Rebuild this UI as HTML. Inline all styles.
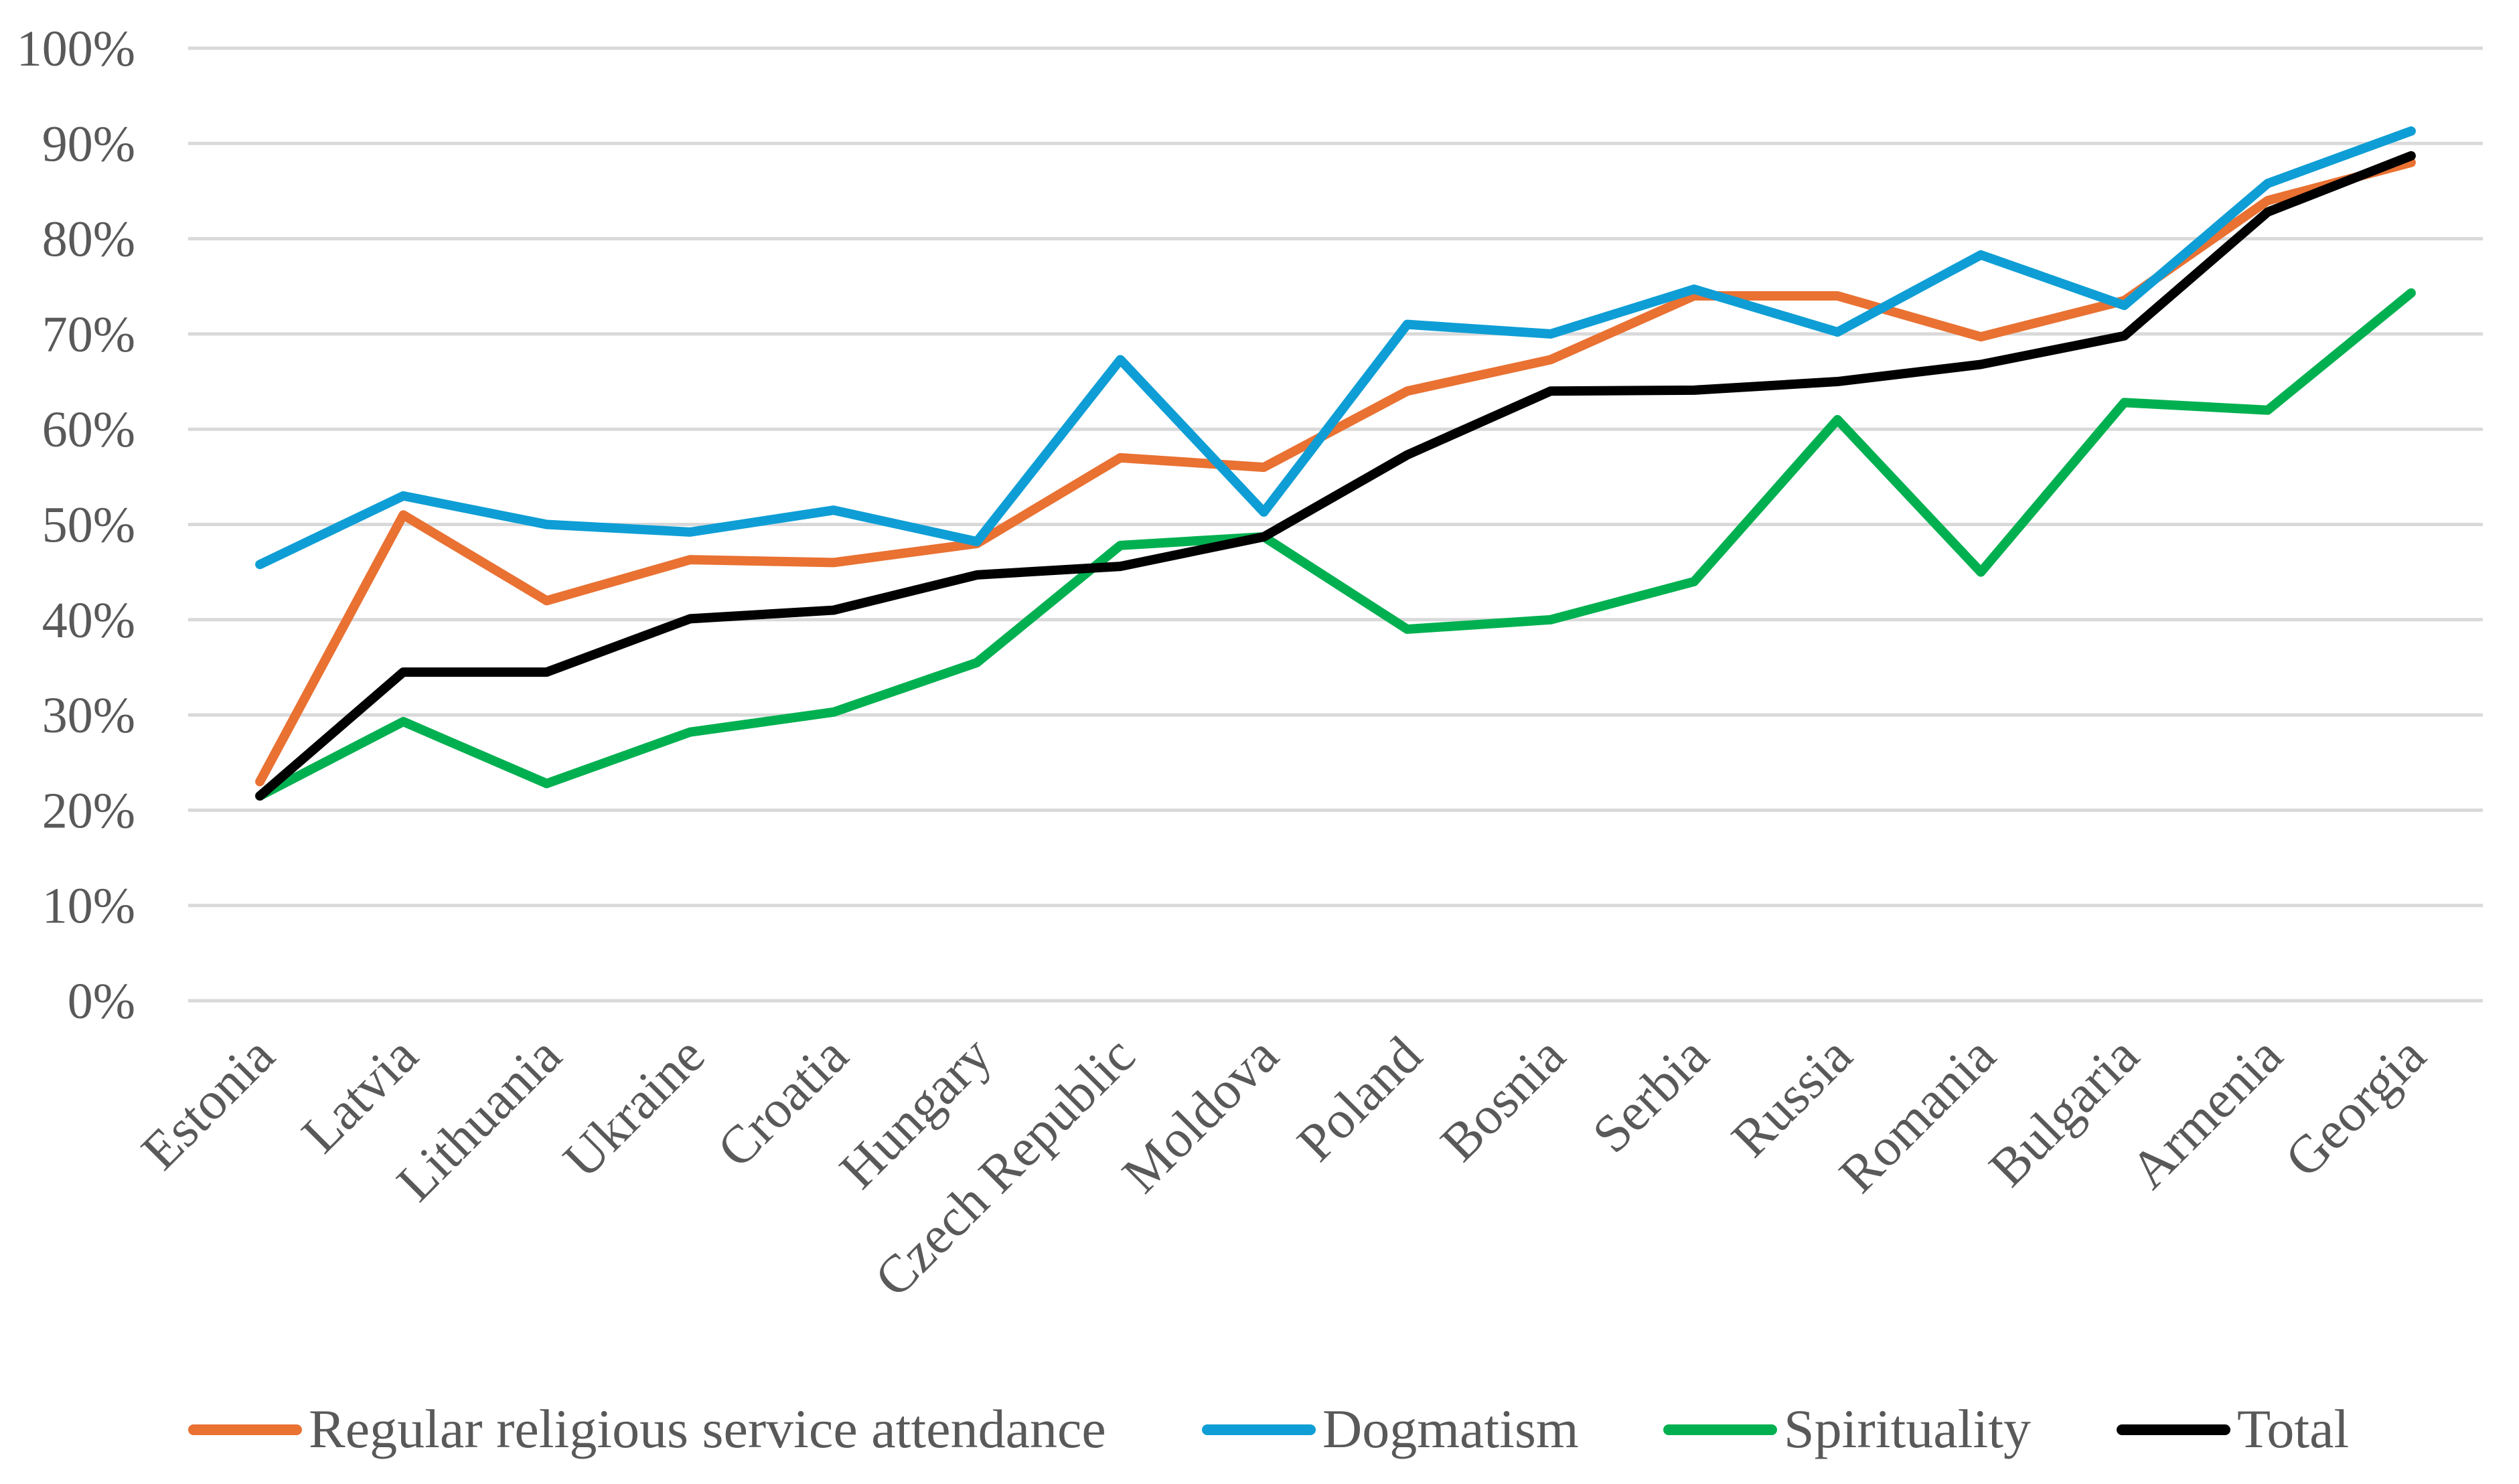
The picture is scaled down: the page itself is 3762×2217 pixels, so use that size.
<!DOCTYPE html>
<html><head><meta charset="utf-8"><style>
html,body{margin:0;padding:0;background:#fff}
svg{display:block}
text{font-family:"Liberation Serif",serif;fill:#595959}
</style></head><body>
<svg id="chart" width="3762" height="2217" viewBox="0 0 3762 2217" xmlns="http://www.w3.org/2000/svg">
<g id="grid"></g>
<g id="yaxis"></g>
<g id="xaxis"></g>
<g id="series"></g>
<g id="legend"></g>
</svg>
<script>
const categories=["Estonia","Latvia","Lithuania","Ukraine","Croatia","Hungary","Czech Republic","Moldova","Poland","Bosnia","Serbia","Russia","Romania","Bulgaria","Armenia","Georgia"];
const attendance=[23,51,42,46.3,46,48,57,56,64,67.3,74,74,69.7,73.5,84,88];
const dogmatism=[45.8,53,50,49.2,51.5,48.2,67.3,51.3,71,70,74.7,70.2,78.3,73,85.8,91.3];
const spirituality=[21.5,29.3,22.8,28.2,30.3,35.5,47.8,48.7,39,40,44,61,45,62.8,62,74.3];
const total=[21.5,34.5,34.5,40.1,41,44.7,45.6,48.7,57.3,64,64.1,65,66.8,69.8,82.8,88.7];
const yTicks=[0,10,20,30,40,50,60,70,80,90,100];
const seriesNames=["Regular religious service attendance","Dogmatism","Spirituality","Total"];

const NS="http://www.w3.org/2000/svg";
const X0=281,X1=3708,Y0=1495,Y100=72;
const band=(X1-X0)/categories.length;
const xs=i=>X0+band*(i+0.5);
const ys=v=>Y0-(Y0-Y100)*v/100;
function mk(tag,attrs,parent){const e=document.createElementNS(NS,tag);for(const k in attrs)e.setAttribute(k,attrs[k]);parent.appendChild(e);return e;}
const grid=document.getElementById('grid'),yaxis=document.getElementById('yaxis'),xaxis=document.getElementById('xaxis'),ser=document.getElementById('series'),leg=document.getElementById('legend');
yTicks.forEach(t=>{
  const l=mk('line',{x1:X0,x2:X1,y1:ys(t),y2:ys(t),stroke:'#d9d9d9','stroke-width':5},grid);
  
  
  const tx=mk('text',{x:202,y:ys(t)+26,'text-anchor':'end','font-size':76},yaxis);
  tx.textContent=t+'%';
  
  
});
categories.forEach((c,i)=>{
  const x=xs(i)+26,y=1582;
  const tx=mk('text',{x:x,y:y,'text-anchor':'end','font-size':80,transform:`rotate(-45 ${x} ${y})`},xaxis);
  tx.textContent=c;
  
  
});
const colors=["#e97132","#0e9ed5","#00b050","#000000"];
[attendance,dogmatism,spirituality,total].forEach((vals,s)=>{
  const p=mk('polyline',{points:vals.map((v,i)=>xs(i)+','+ys(v)).join(' '),fill:'none',stroke:colors[s],'stroke-width':14,'stroke-linejoin':'round','stroke-linecap':'round'},ser);
  
  
});
const legX=[281,1795,2484,3161];
seriesNames.forEach((n,s)=>{
  const g=mk('g',{},leg);
  
  
  mk('line',{x1:legX[s]+8,x2:legX[s]+162,y1:2136,y2:2136,stroke:colors[s],'stroke-width':16,'stroke-linecap':'round'},g);
  const t=mk('text',{x:legX[s]+180,y:2162,'font-size':82},g);
  t.textContent=n;
});
</script>
</body></html>
